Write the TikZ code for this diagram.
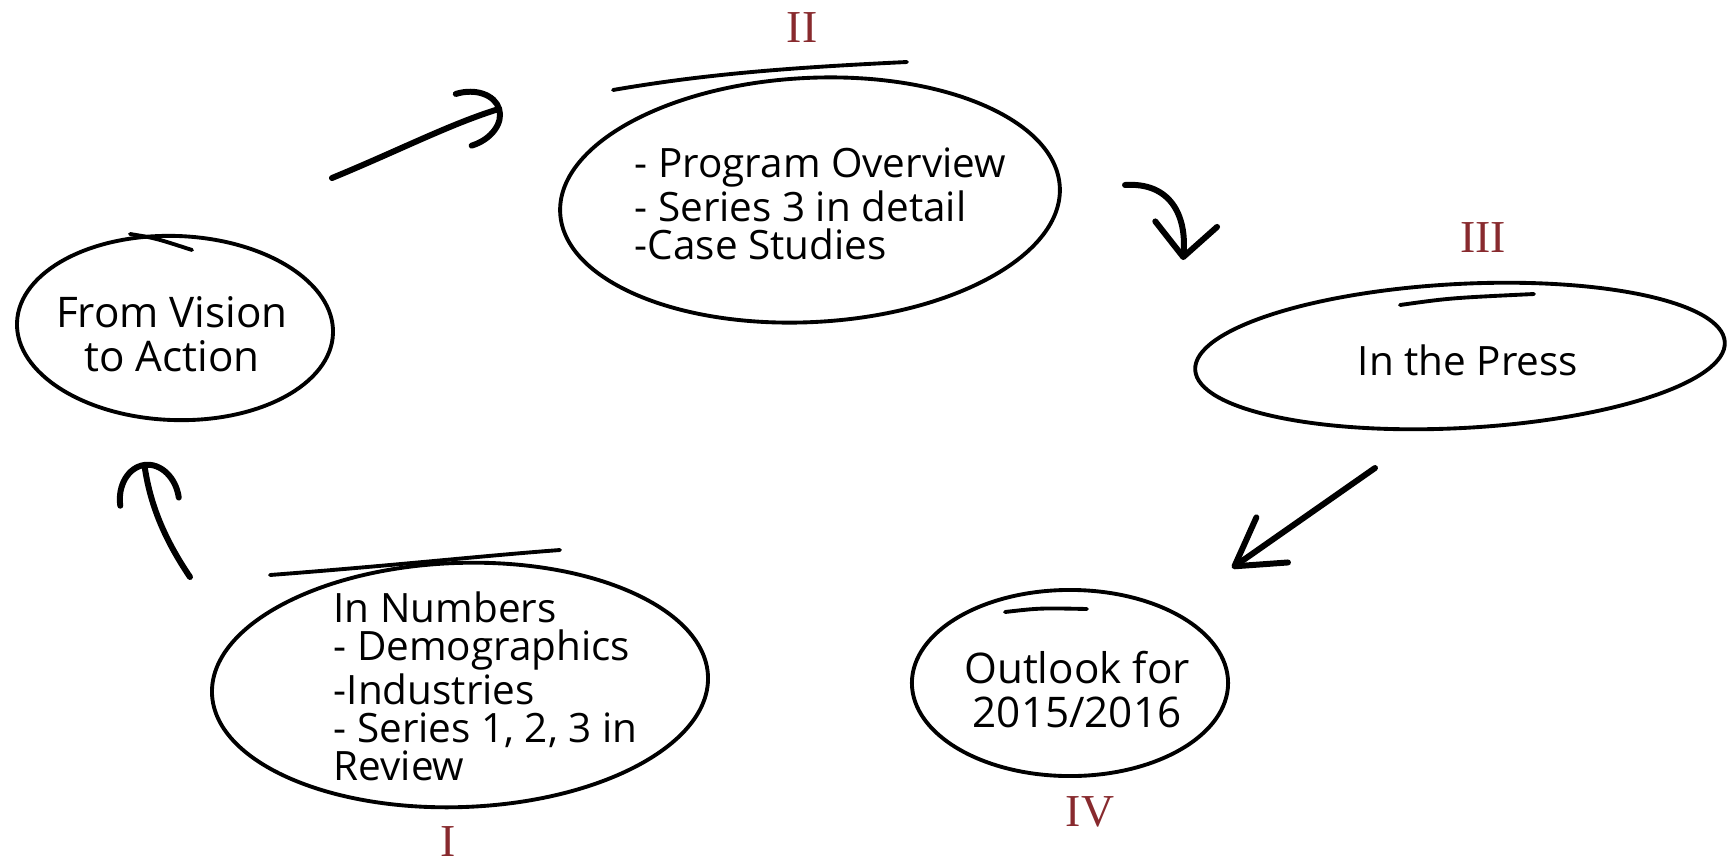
\documentclass[tikz,border=0pt]{standalone}
\usepackage{fontspec}
\setmainfont{Open Sans}
\newfontfamily\numfont{Liberation Serif}
\usetikzlibrary{arrows.meta}
\definecolor{numred}{RGB}{136,42,46}
\tikzset{
  bubble/.style={line width=1.1pt,line cap=round},
  note/.style={inner sep=0pt,font=\fontsize{11.5}{10.8}\selectfont},
  bignote/.style={inner sep=0pt,align=center,font=\fontsize{12}{12.5}\selectfont},
  numlabel/.style={text=numred,inner sep=0pt,font=\numfont\fontsize{13}{13}\selectfont},
  stroke/.style={line width=1.7pt,line cap=round}
}
\begin{document}
\begin{tikzpicture}[x=0.01cm,y=-0.01cm]
  \useasboundingbox (0,0) rectangle (1735,863);
  % sketched rings
  \draw[bubble,rotate around={-2:(175,328)}](175,328)ellipse[x radius=1.58cm,y radius=0.92cm];
  \draw[bubble](130,234)..controls(155,238)..(192,250);
  \draw[bubble,rotate around={3:(810,200)}](810,200)ellipse[x radius=2.50cm,y radius=1.22cm];
  \draw[bubble](613,90)..controls(700,75)and(780,68)..(907,62);
  \draw[bubble,rotate around={3:(1460,356)}](1460,356)ellipse[x radius=2.65cm,y radius=0.72cm];
  \draw[bubble](1400,305)..controls(1450,298)..(1534,294);
  \draw[bubble,rotate around={2:(460,685)}](460,685)ellipse[x radius=2.48cm,y radius=1.22cm];
  \draw[bubble](270,575)..controls(400,565)and(480,556)..(560,550);
  \draw[bubble](1070,683)ellipse[x radius=1.58cm,y radius=0.93cm];
  \draw[bubble](1005,612)..controls(1040,608)..(1087,609);
  % texts
  \node[bignote] (vision) at (172,334) {From Vision\\to Action};
  \node[note,anchor=west,align=left] (program) at (634,204) {- Program Overview\\- Series 3 in detail\\-Case Studies};
  \node[note] (press) at (1468,360) {In the Press};
  \node[note,anchor=west,align=left] (numbers) at (333,686) {In Numbers\\- Demographics\\-Industries\\- Series 1, 2, 3 in\\Review};
  \node[bignote] (outlook) at (1077,690) {Outlook for\\2015/2016};
  \node[numlabel] (n1) at (448,842) {I};
  \node[numlabel] (n2) at (802,28) {II};
  \node[numlabel] (n3) at (1483,238) {III};
  \node[numlabel] (n4) at (1090,812) {IV};
  % arrows
  \coordinate (a1s) at (332,178); \coordinate (a1e) at (502,108);
  \coordinate (a2s) at (1125,185); \coordinate (a2e) at (1183,260);
  \coordinate (a3s) at (1375,468); \coordinate (a3e) at (1232,568);
  \coordinate (a4s) at (190,577); \coordinate (a4e) at (144,462);
  \draw[stroke,-{Arc Barb[length=4mm,width=6mm,round]}](a1s)..controls(400,150)and(450,124)..(a1e);
  \draw[stroke,-{Straight Barb[length=3.3mm,width=6.2mm,round]}](a2s)..controls(1170,182)and(1187,215)..(a2e);
  \draw[stroke,-{Straight Barb[length=4.6mm,width=5.5mm,round]}](a3s)--(a3e);
  \draw[stroke,-{Arc Barb[length=4mm,width=6.5mm,round]}](a4s)..controls(165,540)and(150,505)..(a4e);
\end{tikzpicture}
\end{document}
